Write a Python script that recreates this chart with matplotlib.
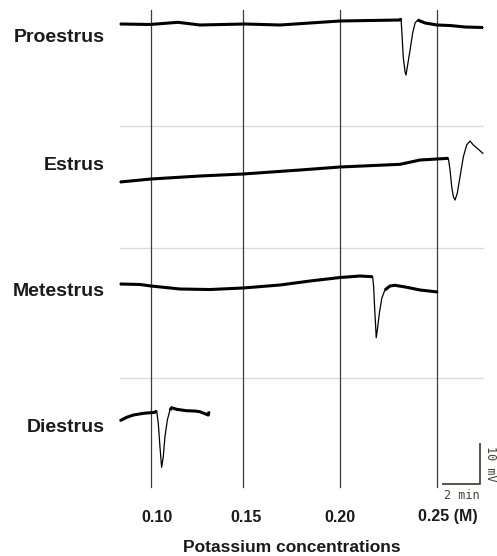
import matplotlib
matplotlib.use('Agg')
import matplotlib.pyplot as plt

# recordings: time (min) and potential (mV, relative to start of trace)
stages = ['Proestrus', 'Estrus', 'Metestrus', 'Diestrus']

proestrus_t = [0, 1.62, 3.14, 4.32, 6.76, 8.65, 11.89, 15.14, 15.19, 15.24, 15.31, 15.41,
               15.46, 15.53, 15.68, 15.82, 15.95, 16.09, 16.49, 17.14, 17.84, 18.65, 19.62]
proestrus_v = [0, -0.12, 0.42, -0.25, 0, -0.25, 0.75, 1.0, 1.38, -2.25, -8.25, -12.0,
               -12.75, -10.75, -6.5, -2.25, 0.25, 1.0, 0.25, -0.25, -0.38, -0.75, -0.88]

estrus_t = [0, 1.68, 4.32, 6.65, 9.73, 11.89, 15.14, 16.22, 17.75, 17.84, 17.93, 18.02,
            18.11, 18.23, 18.38, 18.56, 18.74, 18.92, 19.10, 19.37, 19.61]
estrus_v = [0, 0.75, 1.5, 2.0, 3.0, 3.75, 4.42, 5.5, 5.92, 3.0, -1.18, -3.68,
            -4.5, -2.82, 1.32, 6.32, 9.25, 10.25, 9.25, 8.18, 7.18]

metestrus_t = [0, 1.08, 1.68, 3.24, 4.86, 6.65, 8.65, 10.27, 11.89, 12.97, 13.66, 13.71,
               13.77, 13.82, 13.85, 13.91, 14.02, 14.15, 14.32, 14.59, 14.86, 15.50, 16.22, 17.17]
metestrus_v = [0, -0.12, -0.5, -1.25, -1.38, -1.0, -0.25, 0.75, 1.62, 2.0, 1.82, -0.68,
               -6.5, -10.68, -13.42, -11.5, -7.32, -3.58, -1.5, -0.5, -0.32, -0.82, -1.5, -2.0]

diestrus_t = [0, 0.36, 0.72, 1.26, 1.89, 1.98, 2.07, 2.16, 2.25, 2.34, 2.43, 2.56,
              2.70, 2.79, 3.06, 3.60, 4.05, 4.32, 4.54, 4.77, 4.81]
diestrus_v = [0, 0.85, 1.42, 1.85, 2.1, 2.5, -0.65, -6.5, -11.65, -9.0, -4.0, 0.18,
              2.68, 3.25, 2.85, 2.5, 2.42, 2.25, 1.85, 1.42, 2.25]

# time at which each KCl concentration was applied
conc_labels = ['0.10', '0.15', '0.20', '0.25 (M)']
conc_times = [1.68, 6.65, 11.89, 17.16]

traces = [(proestrus_t, proestrus_v), (estrus_t, estrus_v),
          (metestrus_t, metestrus_v), (diestrus_t, diestrus_v)]
offsets = [-6, -45.5, -71, -105.18]       # vertical stacking (mV)
fast_parts = [(8, 17), (8, 21), (10, 18), (5, 12)]  # index range of the fast response
label_y = [-9.5, -41.25, -72.75, -106.75]
sep_y = [-31.4, -62, -94.4]

fig = plt.figure(figsize=(4.97, 5.56), dpi=100)
ax = fig.add_axes([0, 0, 1, 1])
ax.set_xlim(-120 / 18.5, 377 / 18.5)
ax.set_ylim(-139, 0)
ax.axis('off')

for y in sep_y:
    ax.plot([0, 19.62], [y, y], color='#dcdcdc', lw=1, zorder=1)

for t in conc_times:
    ax.plot([t, t], [-2.5, -121.75], color='#3c3c3c', lw=0.9, zorder=2)

for (t, v), off, (i0, i1), name, ly in zip(traces, offsets, fast_parts, stages, label_y):
    y = [off + val for val in v]
    ax.plot(t, y, color='black', lw=0.9, zorder=3)
    ax.plot(t[:i0 + 1], y[:i0 + 1], color='black', lw=2.2, zorder=3,
            solid_capstyle='butt')
    ax.plot(t[i1:], y[i1:], color='black', lw=2.2, zorder=3, solid_capstyle='butt')
    ax.text(-0.81, ly, name, ha='right', va='center', fontsize=14,
            fontweight='bold', family='Liberation Sans', color='#1a1a1a')

# scale bar: 2 min x 10 mV
bar_x, bar_y = 17.46, -121
ax.plot([bar_x, bar_x + 2, bar_x + 2], [bar_y, bar_y, bar_y + 10],
        color='#4a4436', lw=1.3, zorder=4)
ax.text(bar_x + 1.03, bar_y - 2.9, '2 min', ha='center', va='center', fontsize=8.5,
        family='DejaVu Sans Mono', color='#4a4436')
ax.text(bar_x + 2.55, bar_y + 5, '10 mV', ha='center', va='center', fontsize=8.5,
        rotation=270, family='DejaVu Sans Mono', color='#4a4436')

tick_pos = [2.0, 6.83, 11.89, 17.71]
for x, lab in zip(tick_pos, conc_labels):
    ax.text(x, -129.25, lab, ha='center', va='center', fontsize=11.5,
            fontweight='bold', family='Liberation Sans', color='#1a1a1a')

ax.text(9.27, -136.9, 'Potassium concentrations', ha='center', va='center',
        fontsize=12.5, fontweight='bold', family='Liberation Sans', color='#1a1a1a')

fig.savefig('out.png', dpi=100, facecolor='white')
